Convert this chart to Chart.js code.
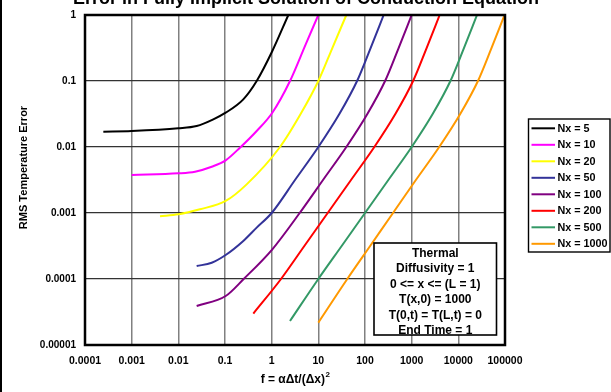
<!DOCTYPE html>
<html>
<head>
<meta charset="utf-8">
<script src="https://cdn.jsdelivr.net/npm/chart.js@4.4.1/dist/chart.umd.min.js"></script>
<style>
html,body{margin:0;padding:0;background:#fff;}
#wrap{position:relative;width:611px;height:392px;}
</style>
</head>
<body>
<div id="wrap"><canvas id="c" width="611" height="392"></canvas></div>
<script>
// ---- data ----
const seriesLabels = ["Nx = 5","Nx = 10","Nx = 20","Nx = 50","Nx = 100","Nx = 200","Nx = 500","Nx = 1000"];
const seriesColors = ["#000000","#FF00FF","#FFFF00","#333399","#800080","#FF0000","#339966","#FF9900"];

const nx5X   = [0.000247, 0.001, 0.01, 0.0247, 0.0562, 0.1033, 0.2466, 0.4775, 1.033, 2.275];
const nx5Y   = [0.01706, 0.01746, 0.01919, 0.0208, 0.02624, 0.0331, 0.0527, 0.1, 0.285, 1.0];
const nx10X  = [0.001, 0.01, 0.0228, 0.0519, 0.1033, 0.209, 0.4775, 1.033, 2.47, 5.36, 10];
const nx10Y  = [0.00377, 0.00399, 0.00423, 0.00503, 0.00628, 0.00977, 0.0175, 0.0331, 0.1, 0.36, 1.0];
const nx20X  = [0.00405, 0.01, 0.0291, 0.1033, 0.2911, 1.507, 4.169, 10, 19.95, 39.8];
const nx20Y  = [0.000891, 0.000955, 0.001138, 0.00152, 0.002716, 0.01, 0.0316, 0.1, 0.316, 1.0];
const nx50X  = [0.0247, 0.0519, 0.1033, 0.2466, 0.4775, 1.0, 3.162, 10, 28.18, 67.6, 131.8, 251.2];
const nx50Y  = [0.000157, 0.0001766, 0.000231, 0.000377, 0.0006, 0.001, 0.00316, 0.01, 0.0316, 0.1, 0.316, 1.0];
const nx100X = [0.0247, 0.1033, 0.2512, 1.033, 3.981, 12.59, 39.81, 112.2, 269.2, 524.8, 1000];
const nx100Y = [0.000039, 0.0000552, 0.0001, 0.000282, 0.001, 0.00316, 0.01, 0.0316, 0.1, 0.316, 1.0];
const nx200X = [0.4046, 1.585, 5.012, 15.85, 50.12, 158.5, 446.7, 1072, 2089, 3981];
const nx200Y = [0.0000299, 0.0001, 0.000316, 0.001, 0.00316, 0.01, 0.0316, 0.1, 0.316, 1.0];
const nx500X = [2.472, 10, 31.62, 100, 316.2, 1000, 2818, 6761, 13183, 25119];
const nx500Y = [0.0000231, 0.0001, 0.000316, 0.001, 0.00316, 0.01, 0.0316, 0.1, 0.316, 1.0];
const nx1000X = [10, 41.69, 128.8, 398.1, 1230, 3890, 10965, 26303, 51286, 97724];
const nx1000Y = [0.0000218, 0.0001, 0.000316, 0.001, 0.00316, 0.01, 0.0316, 0.1, 0.316, 1.0];

const xTickValues = [0.0001, 0.001, 0.01, 0.1, 1, 10, 100, 1000, 10000, 100000];
const xTickLabels = ["0.0001","0.001","0.01","0.1","1","10","100","1000","10000","100000"];
const yTickValues = [0.00001, 0.0001, 0.001, 0.01, 0.1, 1];
const yTickLabels = ["0.00001","0.0001","0.001","0.01","0.1","1"];

const chartTitle = "Error in Fully Implicit Solution of Conduction Equation";
const yAxisTitle = "RMS Temperature Error";
const xAxisTitleMain = "f = \u03b1\u0394t/(\u0394x)";
const xAxisTitleSup = "2";
const noteLines = ["Thermal","Diffusivity = 1","0 <= x <= (L = 1)","T(x,0) = 1000","T(0,t) = T(L,t) = 0","End Time = 1"];

const seriesX = [nx5X, nx10X, nx20X, nx50X, nx100X, nx200X, nx500X, nx1000X];
const seriesY = [nx5Y, nx10Y, nx20Y, nx50Y, nx100Y, nx200Y, nx500Y, nx1000Y];

const FONT = "'Liberation Sans', Arial, Helvetica, sans-serif";

const datasets = seriesLabels.map((lab, i) => ({
  label: lab,
  data: seriesX[i].map((x, j) => ({x: x, y: seriesY[i][j]})),
  borderColor: seriesColors[i],
  backgroundColor: seriesColors[i],
  borderWidth: 2,
  pointRadius: 0,
  fill: false,
  cubicInterpolationMode: 'monotone'
}));

const decor = {
  id: 'decor',
  beforeDraw(chart) {
    const ctx = chart.ctx;
    ctx.save();
    ctx.fillStyle = '#fff';
    ctx.fillRect(0, 0, chart.width, chart.height);
    ctx.fillStyle = '#000';
    ctx.fillRect(0, 0, 2, chart.height);
    ctx.restore();
  },
  afterDatasetsDraw(chart) {
    const ctx = chart.ctx;
    const a = chart.chartArea;
    ctx.save();
    // plot border
    ctx.strokeStyle = '#000';
    ctx.lineWidth = 2.5;
    ctx.strokeRect(a.left, a.top, a.right - a.left, a.bottom - a.top);

    // note box
    ctx.fillStyle = '#fff';
    ctx.fillRect(374, 243, 122.5, 92);
    ctx.lineWidth = 1.6;
    ctx.strokeRect(374, 243, 122.5, 92);
    ctx.fillStyle = '#000';
    ctx.font = 'bold 12px ' + FONT;
    ctx.textAlign = 'center';
    ctx.textBaseline = 'alphabetic';
    noteLines.forEach((t, i) => ctx.fillText(t, 435.3, 256.7 + i * 15.46));

    // legend
    ctx.fillStyle = '#fff';
    ctx.fillRect(528.5, 119, 81.5, 133);
    ctx.lineWidth = 1.4;
    ctx.strokeStyle = '#000';
    ctx.strokeRect(528.5, 119, 81.5, 133);
    ctx.font = 'bold 10.8px ' + FONT;
    ctx.textAlign = 'left';
    ctx.textBaseline = 'middle';
    chart.data.datasets.forEach((ds, i) => {
      const y = 128.3 + i * 16.5;
      ctx.strokeStyle = ds.borderColor;
      ctx.lineWidth = 2;
      ctx.beginPath();
      ctx.moveTo(531.5, y);
      ctx.lineTo(555, y);
      ctx.stroke();
      ctx.fillStyle = '#000';
      ctx.fillText(ds.label, 557.5, y + 0.5);
    });

    // title (partly cut off at top)
    ctx.font = 'bold 18px ' + FONT;
    ctx.textAlign = 'center';
    ctx.textBaseline = 'alphabetic';
    ctx.fillText(chartTitle, 306, 3.5);

    // y axis title
    ctx.save();
    ctx.translate(24, 167.5);
    ctx.rotate(-Math.PI / 2);
    ctx.font = 'bold 11px ' + FONT;
    ctx.textAlign = 'center';
    ctx.textBaseline = 'middle';
    ctx.fillText(yAxisTitle, 0, 0);
    ctx.restore();

    // x axis title with superscript
    ctx.font = 'bold 12px ' + FONT;
    const wMain = ctx.measureText(xAxisTitleMain).width;
    ctx.font = 'bold 8px ' + FONT;
    const wSup = ctx.measureText(xAxisTitleSup).width;
    const x0 = 295 - (wMain + wSup) / 2;
    ctx.textAlign = 'left';
    ctx.textBaseline = 'alphabetic';
    ctx.font = 'bold 12px ' + FONT;
    ctx.fillText(xAxisTitleMain, x0, 383);
    ctx.font = 'bold 8px ' + FONT;
    ctx.fillText(xAxisTitleSup, x0 + wMain + 0.5, 377);
    ctx.restore();
  }
};

new Chart(document.getElementById('c'), {
  type: 'line',
  data: { datasets: datasets },
  plugins: [decor],
  options: {
    responsive: false,
    animation: false,
    devicePixelRatio: 1,
    layout: { padding: { top: 14, right: 106, left: 0, bottom: 0 } },
    plugins: { legend: { display: false }, title: { display: false }, tooltip: { enabled: false } },
    scales: {
      x: {
        type: 'logarithmic',
        min: 0.0001, max: 100000,
        afterBuildTicks: s => { s.ticks = xTickValues.map(v => ({ value: v })); },
        afterFit: s => { s.height = 47; },
        ticks: {
          autoSkip: false, maxRotation: 0, padding: 10,
          color: '#000', font: { family: FONT, size: 10.5, weight: 'bold' },
          callback: (v, i) => xTickLabels[i]
        },
        grid: { color: '#808080', lineWidth: 1.5, drawTicks: false },
        border: { display: false }
      },
      y: {
        type: 'logarithmic',
        min: 0.00001, max: 1,
        afterBuildTicks: s => { s.ticks = yTickValues.map(v => ({ value: v })); },
        afterFit: s => { s.width = 85; },
        ticks: {
          autoSkip: false, padding: 9,
          color: '#000', font: { family: FONT, size: 10, weight: 'bold' },
          callback: (v, i) => yTickLabels[i]
        },
        grid: { color: '#333333', lineWidth: 1.2, drawTicks: false },
        border: { display: false }
      }
    }
  }
});
</script>
</body>
</html>
